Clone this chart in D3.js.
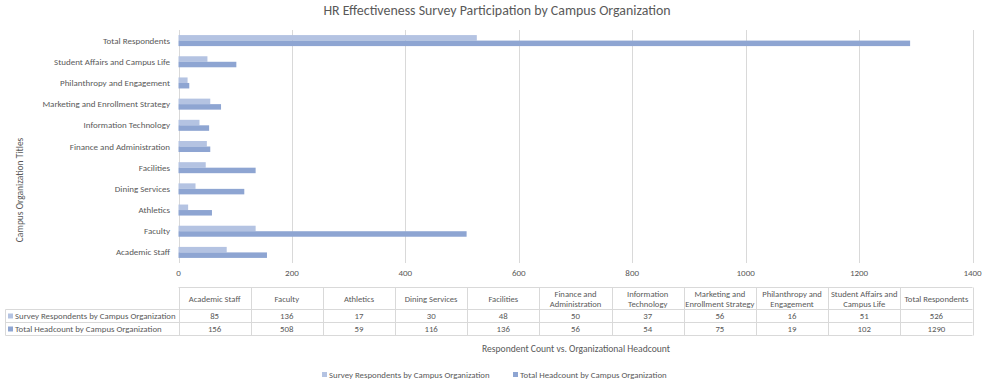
<!DOCTYPE html>
<html>
<head>
<meta charset="utf-8">
<script src="https://cdn.jsdelivr.net/npm/d3@7"></script>
<style>
  html, body { margin: 0; padding: 0; background: #fff; }
  svg { display: block; font-family: Carlito, Calibri, "Liberation Sans", Arial, sans-serif; }
</style>
</head>
<body>
<svg id="chart" width="990" height="387"></svg>
<script>
const categories = ["Academic Staff", "Faculty", "Athletics", "Dining Services", "Facilities",
  "Finance and Administration", "Information Technology", "Marketing and Enrollment Strategy",
  "Philanthropy and Engagement", "Student Affairs and Campus Life", "Total Respondents"];
const seriesNames = ["Survey Respondents by Campus Organization", "Total Headcount by Campus Organization"];
const respondents = [85, 136, 17, 30, 48, 50, 37, 56, 16, 51, 526];
const headcount = [156, 508, 59, 116, 136, 56, 54, 75, 19, 102, 1290];
const xTicks = [0, 200, 400, 600, 800, 1000, 1200, 1400];
const colors = ["#b4c3e2", "#8ea5d2"];
const titleText = "HR Effectiveness Survey Participation by Campus Organization";
const xTitle = "Respondent Count vs. Organizational Headcount";
const yTitle = "Campus Organization Titles";

const svg = d3.select("#chart");
const textColor = "#595959";
const gridColor = "#d9d9d9";
const pLeft = 178.5, pRight = 972.5, pTop = 30, pBottom = 263;

const x = d3.scaleLinear().domain([0, 1400]).range([pLeft, pRight]);
const y = d3.scaleBand().domain(categories.slice().reverse()).range([pTop, pBottom])
  .paddingInner(0.48).paddingOuter(0.24);
const y1 = d3.scaleBand().domain([0, 1]).range([0, y.bandwidth()]);

// title
svg.append("text").attr("x", 497).attr("y", 15).attr("text-anchor", "middle")
  .attr("fill", textColor).attr("font-size", 13.9).text(titleText);

// gridlines
svg.append("g").selectAll("line").data(xTicks).join("line")
  .attr("x1", d => Math.round(x(d)) + 0.5).attr("x2", d => Math.round(x(d)) + 0.5)
  .attr("y1", pTop).attr("y2", pBottom)
  .attr("stroke", gridColor).attr("stroke-width", 1);

// x tick labels
svg.append("g").selectAll("text").data(xTicks).join("text")
  .attr("x", d => x(d)).attr("y", 276).attr("text-anchor", "middle")
  .attr("fill", textColor).attr("font-size", 9).text(d => d);

// bars
const data = categories.map((c, i) => ({ c, vals: [respondents[i], headcount[i]] }));
const groups = svg.append("g").selectAll("g").data(data).join("g")
  .attr("transform", d => `translate(0,${y(d.c)})`);
groups.selectAll("rect").data(d => d.vals.map((v, k) => ({ v, k }))).join("rect")
  .attr("x", x(0)).attr("y", d => y1(d.k)).attr("height", y1.bandwidth())
  .attr("width", d => x(d.v) - x(0)).attr("fill", d => colors[d.k]);

// y category labels
svg.append("g").selectAll("text").data(categories).join("text")
  .attr("x", 170).attr("y", d => y(d) + y.bandwidth() / 2 + 3)
  .attr("text-anchor", "end").attr("fill", textColor).attr("font-size", 9).text(d => d);

// y title
svg.append("text").attr("transform", "translate(23,190) rotate(-90)")
  .attr("text-anchor", "middle").attr("fill", textColor).attr("font-size", 9.5).text(yTitle);

// data table
const colW = (pRight - pLeft) / categories.length;
const tTop = 287.5, hBot = 309.5, r1Bot = 322.5, r2Bot = 335.5, tLeft = 5.5;
const tbl = svg.append("g");
const hline = (x1, y1_, x2, y2) => tbl.append("line").attr("x1", x1).attr("y1", y1_).attr("x2", x2).attr("y2", y2)
  .attr("stroke", gridColor).attr("stroke-width", 1);
hline(pLeft, tTop, pRight, tTop);
hline(tLeft, hBot, pRight, hBot);
hline(tLeft, r1Bot, pRight, r1Bot);
hline(tLeft, r2Bot, pRight, r2Bot);
hline(tLeft, hBot, tLeft, r2Bot);
for (let i = 0; i <= categories.length; i++) {
  const xx = Math.round(pLeft + i * colW) + 0.5;
  hline(xx, tTop, xx, r2Bot);
}
// header labels (wrapped)
const hdrSize = 8.6;
categories.forEach((c, i) => {
  const cx = pLeft + (i + 0.5) * colW;
  const t = tbl.append("text").attr("text-anchor", "middle").attr("fill", textColor).attr("font-size", hdrSize);
  const words = c.split(" ");
  let lines = [], cur = "";
  const probe = tbl.append("text").attr("font-size", hdrSize);
  words.forEach(w => {
    const test = cur ? cur + " " + w : w;
    probe.text(test);
    if (probe.node().getComputedTextLength() > colW + 1 && cur) { lines.push(cur); cur = w; }
    else cur = test;
  });
  lines.push(cur);
  probe.remove();
  const mid = (tTop + hBot) / 2;
  const lh = 10;
  lines.forEach((ln, j) => {
    t.append("tspan").attr("x", cx).attr("y", mid + 3 + (j - (lines.length - 1) / 2) * lh).text(ln);
  });
});
// values
[respondents, headcount].forEach((vals, r) => {
  const rowMid = r === 0 ? (hBot + r1Bot) / 2 : (r1Bot + r2Bot) / 2;
  tbl.append("g").selectAll("text").data(vals).join("text")
    .attr("x", (d, i) => pLeft + (i + 0.5) * colW).attr("y", rowMid + 3)
    .attr("text-anchor", "middle").attr("fill", textColor).attr("font-size", 8.8).text(d => d);
  tbl.append("rect").attr("x", 8).attr("y", rowMid - 2.5).attr("width", 5).attr("height", 5).attr("fill", colors[r]);
  tbl.append("text").attr("x", 15).attr("y", rowMid + 3).attr("fill", textColor).attr("font-size", 8.8).text(seriesNames[r]);
});

// x title
svg.append("text").attr("x", 576).attr("y", 352).attr("text-anchor", "middle")
  .attr("fill", textColor).attr("font-size", 9.6).text(xTitle);

// legend
const legendX = [322, 513];
seriesNames.forEach((s, k) => {
  svg.append("rect").attr("x", legendX[k]).attr("y", 372).attr("width", 5).attr("height", 5).attr("fill", colors[k]);
  svg.append("text").attr("x", legendX[k] + 7).attr("y", 377.5).attr("fill", textColor).attr("font-size", 8.8).text(s);
});
</script>
</body>
</html>
